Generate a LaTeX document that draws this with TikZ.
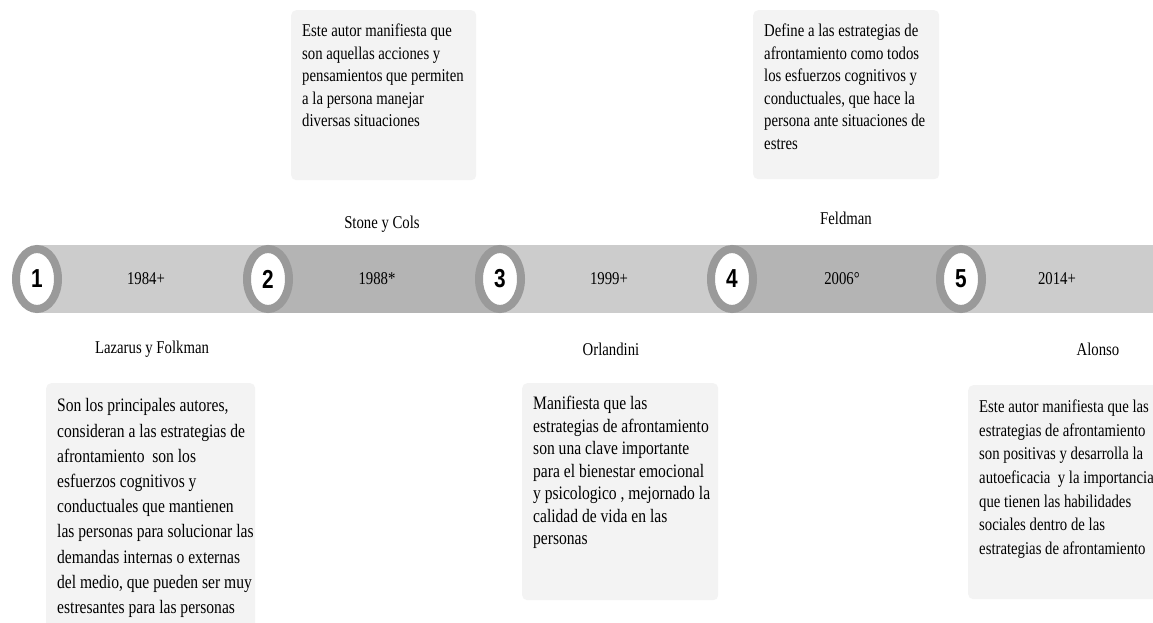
\documentclass[tikz,border=0pt]{standalone}
\usepackage{fontspec}
\setmainfont{Liberation Serif}[FakeStretch=0.82]
\newfontfamily\numfont{Liberation Sans}[FakeStretch=0.8]
\usetikzlibrary{shapes, positioning, backgrounds}

\definecolor{bandlight}{HTML}{CCCCCC}
\definecolor{banddark}{HTML}{B4B4B4}
\definecolor{ringgray}{HTML}{9A9A9A}
\definecolor{boxgray}{HTML}{F3F3F3}

\tikzset{
  ring/.style={ellipse, draw=ringgray, line width=8pt, fill=white, minimum width=42pt, minimum height=60pt, inner sep=0pt, font=\numfont\bfseries\fontsize{26}{26}\selectfont},
  year/.style={font=\fontsize{18}{22}\selectfont},
  author/.style={font=\fontsize{18}{22}\selectfont},
  notebox/.style={fill=boxgray, rounded corners=5pt, inner sep=11pt, anchor=north west, font=\fontsize{18}{22.5}\selectfont},
}

\begin{document}
\begin{tikzpicture}[x=1pt, y=-1pt]
        \path[use as bounding box, clip] (0,0) rectangle (1153,623);

        % Milestones
        \node[ring] (c1) at (37,279) {1};
        \node[ring, right of=c1, node distance=231pt] (c2) {2};
        \node[ring, right of=c2, node distance=232pt] (c3) {3};
        \node[ring, right of=c3, node distance=232pt] (c4) {4};
        \node[ring, right of=c4, node distance=229pt] (c5) {5};

        % Band
        \begin{scope}[on background layer]
            \fill[white] (0,0) rectangle (1153,623);
            \foreach \a/\b/\col in {c1/c2/bandlight, c2/c3/banddark, c3/c4/bandlight, c4/c5/banddark}
                \fill[\col] ([yshift=34pt]\a.center) rectangle ([yshift=-34pt]\b.center);
            \fill[bandlight] ([yshift=34pt]c5.center) rectangle (1153,313);
        \end{scope}

        % Years
        \node[year, right of=c1, node distance=109pt] (y1) {1984+};
        \node[year, right of=c2, node distance=109pt] (y2) {1988*};
        \node[year, right of=c3, node distance=109pt] (y3) {1999+};
        \node[year, right of=c4, node distance=110pt] (y4) {2006°};
        \node[year, right of=c5, node distance=96pt] (y5) {2014+};

        % Authors
        \node[author, below of=y1, node distance=70pt, xshift=6pt] (a1) {Lazarus y Folkman};
        \node[author, above of=y2, node distance=55pt, xshift=5pt] (a2) {Stone y Cols};
        \node[author, below of=y3, node distance=70pt, xshift=2pt] (a3) {Orlandini};
        \node[author, above of=y4, node distance=61pt, xshift=4pt] (a4) {Feldman};
        \node[author, below of=y5, node distance=70pt, xshift=41pt] (a5) {Alonso};

        % Notes
        \node[notebox] (n2) at (291,10) {\parbox[t][148pt][t]{163pt}{\begin{tabular}[t]{@{}l@{}}
            Este autor manifiesta que\\ son aquellas acciones y\\ pensamientos que permiten\\ a la persona manejar\\ diversas situaciones\end{tabular}}};
        \node[notebox] (n4) at (753,10) {\parbox[t][147pt][t]{164pt}{\begin{tabular}[t]{@{}l@{}}
            Define a las estrategias de\\ afrontamiento como todos\\ los esfuerzos cognitivos y\\ conductuales, que hace la\\ persona ante situaciones de\\ estres\end{tabular}}};
        \node[notebox, font=\fontsize{19}{25.2}\selectfont] (n1) at (46,383) {\parbox[t][250pt][t]{187pt}{\begin{tabular}[t]{@{}l@{}}
            Son los principales autores,\\ consideran a las estrategias de\\ afrontamiento\ \ son los\\ esfuerzos cognitivos y\\ conductuales que mantienen\\ las personas para solucionar las\\ demandas internas o externas\\ del medio, que pueden ser muy\\ estresantes para las personas\end{tabular}}};
        \node[notebox, font=\fontsize{19}{22.5}\selectfont] (n3) at (522,383) {\parbox[t][195pt][t]{174pt}{\begin{tabular}[t]{@{}l@{}}
            Manifiesta que las\\ estrategias de afrontamiento\\ son una clave importante\\ para el bienestar emocional\\ y psicologico , mejornado la\\ calidad de vida en las\\ personas\end{tabular}}};
        \node[notebox] (n5) at (968,385) {\parbox[t][192pt][t]{220pt}{\fontsize{18}{23.6}\selectfont\begin{tabular}[t]{@{}l@{}}
            Este autor manifiesta que las\\ estrategias de afrontamiento\\ son positivas y desarrolla la\\ autoeficacia\ \ y la importancia\\ que tienen las habilidades\\ sociales dentro de las\\ estrategias de afrontamiento\end{tabular}}};
    \end{tikzpicture}
\end{document}
